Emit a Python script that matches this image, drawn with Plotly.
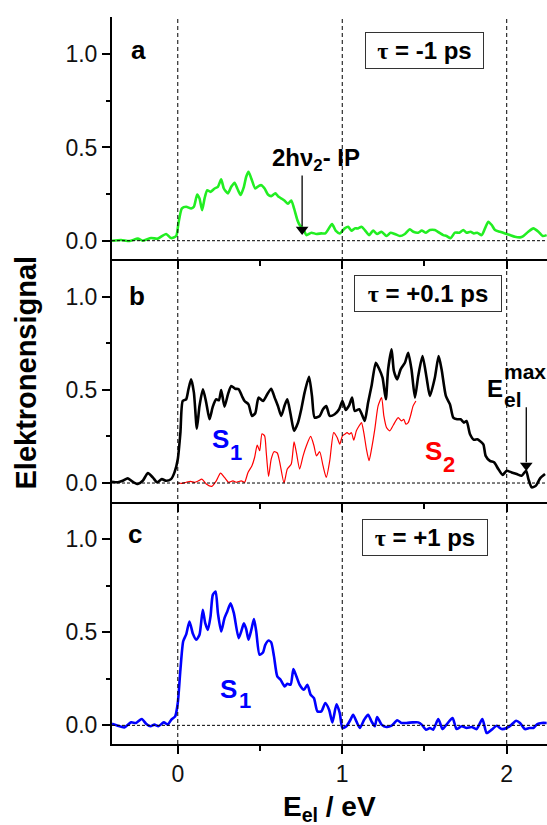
import plotly.graph_objects as go

# ---------------- data ----------------
a_x = [-0.40, -0.345, -0.294, -0.243, -0.213, -0.162, -0.122, -0.071, -0.041, -0.010,
       0.004, 0.025, 0.051, 0.081, 0.098, 0.118, 0.132, 0.148, 0.163, 0.179,
       0.199, 0.224, 0.244, 0.264, 0.280, 0.305, 0.325, 0.345, 0.362, 0.382,
       0.402, 0.416, 0.430, 0.447, 0.471, 0.491, 0.508, 0.528, 0.548, 0.568,
       0.593, 0.609, 0.629, 0.650, 0.670, 0.690, 0.707, 0.727, 0.741, 0.762,
       0.782, 0.812, 0.843, 0.873, 0.897, 0.938, 0.960, 0.985, 1.015, 1.036,
       1.056, 1.076, 1.096, 1.117, 1.137, 1.163, 1.188, 1.212, 1.239, 1.269,
       1.294, 1.320, 1.350, 1.381, 1.411, 1.432, 1.462, 1.483, 1.509, 1.533,
       1.563, 1.590, 1.614, 1.634, 1.659, 1.685, 1.712, 1.736, 1.756, 1.780,
       1.801, 1.821, 1.848, 1.868, 1.888, 1.909, 1.929, 1.959, 1.990, 2.020,
       2.050, 2.081, 2.101, 2.131, 2.162, 2.193, 2.219, 2.243]
a_y = [0.0, 0.004, -0.002, 0.011, 0.0, 0.014, 0.011, 0.036, 0.014, 0.025,
       0.093, 0.173, 0.182, 0.173, 0.182, 0.248, 0.227, 0.164, 0.227, 0.271,
       0.262, 0.280, 0.289, 0.329, 0.280, 0.254, 0.289, 0.311, 0.280, 0.245,
       0.289, 0.343, 0.370, 0.334, 0.280, 0.293, 0.298, 0.280, 0.248, 0.239,
       0.254, 0.239, 0.227, 0.214, 0.198, 0.216, 0.173, 0.111, 0.084, 0.066,
       0.030, 0.043, 0.036, 0.039, 0.039, 0.089, 0.054, 0.039, 0.066, 0.075,
       0.054, 0.066, 0.066, 0.075, 0.057, 0.030, 0.054, 0.036, 0.048, 0.025,
       0.043, 0.036, 0.025, 0.036, 0.061, 0.048, 0.043, 0.054, 0.043, 0.057,
       0.057, 0.043, 0.030, 0.025, 0.013, 0.043, 0.043, 0.057, 0.043, 0.048,
       0.039, 0.043, 0.030, 0.066, 0.102, 0.084, 0.057, 0.048, 0.039, 0.030,
       0.021, 0.018, 0.025, 0.048, 0.066, 0.048, 0.025, 0.030]

b_x = [-0.40, -0.365, -0.335, -0.304, -0.274, -0.243, -0.213, -0.182, -0.152, -0.126,
       -0.097, -0.071, -0.041, -0.020, 0.000, 0.016, 0.030, 0.051, 0.065, 0.081,
       0.098, 0.116, 0.132, 0.153, 0.173, 0.193, 0.213, 0.234, 0.250, 0.264,
       0.284, 0.305, 0.325, 0.349, 0.370, 0.390, 0.406, 0.430, 0.451, 0.471,
       0.491, 0.518, 0.544, 0.568, 0.589, 0.609, 0.629, 0.650, 0.666, 0.686,
       0.707, 0.731, 0.751, 0.771, 0.798, 0.816, 0.832, 0.863, 0.883, 0.903,
       0.924, 0.954, 0.981, 1.001, 1.021, 1.042, 1.060, 1.076, 1.103, 1.123,
       1.137, 1.157, 1.178, 1.204, 1.224, 1.245, 1.265, 1.279, 1.300, 1.314,
       1.334, 1.355, 1.381, 1.401, 1.421, 1.442, 1.462, 1.488, 1.513, 1.533,
       1.563, 1.586, 1.604, 1.630, 1.655, 1.675, 1.699, 1.720, 1.740, 1.756,
       1.777, 1.801, 1.821, 1.837, 1.858, 1.872, 1.898, 1.923, 1.949, 1.975,
       2.000, 2.030, 2.061, 2.091, 2.118, 2.132, 2.152, 2.178, 2.203, 2.233]
b_y = [0.007, 0.004, 0.012, 0.025, 0.007, -0.005, 0.012, 0.053, 0.030, 0.004,
       0.021, 0.012, 0.021, 0.057, 0.128, 0.271, 0.440, 0.449, 0.503, 0.556,
       0.485, 0.292, 0.413, 0.503, 0.431, 0.342, 0.410, 0.449, 0.444, 0.499,
       0.410, 0.476, 0.520, 0.506, 0.503, 0.467, 0.440, 0.422, 0.360, 0.374,
       0.458, 0.440, 0.476, 0.506, 0.458, 0.413, 0.360, 0.417, 0.449, 0.369,
       0.280, 0.324, 0.396, 0.485, 0.570, 0.467, 0.351, 0.360, 0.396, 0.413,
       0.360, 0.369, 0.396, 0.440, 0.392, 0.417, 0.458, 0.387, 0.396, 0.360,
       0.333, 0.431, 0.520, 0.645, 0.613, 0.565, 0.449, 0.610, 0.717, 0.601,
       0.556, 0.610, 0.645, 0.699, 0.610, 0.458, 0.574, 0.681, 0.565, 0.467,
       0.565, 0.681, 0.610, 0.467, 0.422, 0.351, 0.342, 0.342, 0.324, 0.333,
       0.262, 0.232, 0.235, 0.226, 0.208, 0.146, 0.119, 0.111, 0.075, 0.043,
       0.066, 0.057, 0.048, 0.039, 0.066, 0.021, -0.023, -0.014, 0.025, 0.048]

s2_x = [0.000, 0.025, 0.051, 0.077, 0.102, 0.126, 0.146, 0.173, 0.207, 0.234,
        0.260, 0.284, 0.309, 0.335, 0.355, 0.386, 0.406, 0.427, 0.451, 0.467,
        0.483, 0.498, 0.512, 0.528, 0.538, 0.552, 0.568, 0.585, 0.605, 0.620,
        0.646, 0.666, 0.690, 0.707, 0.721, 0.741, 0.762, 0.782, 0.808, 0.828,
        0.843, 0.863, 0.883, 0.903, 0.924, 0.948, 0.969, 0.985, 1.001, 1.015,
        1.030, 1.042, 1.056, 1.070, 1.086, 1.103, 1.117, 1.131, 1.147, 1.163,
        1.178, 1.198, 1.218, 1.239, 1.253, 1.269, 1.289, 1.310, 1.340, 1.360,
        1.374, 1.387, 1.401, 1.415, 1.431, 1.448]
s2_y = [0.000, -0.002, 0.004, 0.009, 0.004, 0.012, 0.021, -0.005, -0.018, 0.012,
        0.053, 0.030, 0.004, 0.012, 0.004, 0.012, 0.004, 0.057, 0.093, 0.137,
        0.203, 0.173, 0.264, 0.253, 0.164, 0.036, 0.128, 0.168, 0.161, 0.111,
        0.000, 0.075, 0.102, 0.221, 0.164, 0.075, 0.146, 0.200, 0.250, 0.200,
        0.146, 0.168, 0.093, 0.030, 0.120, 0.270, 0.244, 0.208, 0.253, 0.262,
        0.270, 0.262, 0.270, 0.230, 0.280, 0.307, 0.324, 0.271, 0.182, 0.120,
        0.182, 0.289, 0.414, 0.458, 0.360, 0.298, 0.280, 0.310, 0.351, 0.333,
        0.342, 0.316, 0.324, 0.360, 0.414, 0.440]

c_x = [-0.40, -0.365, -0.325, -0.284, -0.254, -0.219, -0.193, -0.166, -0.142, -0.118,
       -0.085, -0.061, -0.040, -0.016, 0.000, 0.016, 0.033, 0.051, 0.071, 0.092,
       0.112, 0.132, 0.152, 0.167, 0.183, 0.199, 0.213, 0.230, 0.244, 0.264,
       0.284, 0.301, 0.321, 0.341, 0.370, 0.386, 0.402, 0.416, 0.430, 0.447,
       0.463, 0.477, 0.497, 0.518, 0.532, 0.552, 0.568, 0.585, 0.605, 0.625,
       0.650, 0.666, 0.686, 0.703, 0.721, 0.741, 0.767, 0.788, 0.808, 0.828,
       0.849, 0.873, 0.897, 0.920, 0.940, 0.965, 0.985, 1.001, 1.025, 1.050,
       1.066, 1.086, 1.107, 1.133, 1.157, 1.178, 1.198, 1.212, 1.239, 1.269,
       1.300, 1.334, 1.360, 1.391, 1.428, 1.462, 1.483, 1.509, 1.533, 1.553,
       1.584, 1.610, 1.634, 1.671, 1.695, 1.726, 1.756, 1.787, 1.817, 1.852,
       1.878, 1.909, 1.939, 1.969, 2.000, 2.030, 2.057, 2.081, 2.111, 2.137,
       2.162, 2.186, 2.213, 2.243]
c_y = [0.009, -0.002, -0.011, 0.016, 0.013, 0.034, 0.009, -0.005, 0.004, -0.005,
       0.016, 0.004, 0.030, 0.048, 0.120, 0.299, 0.451, 0.488, 0.557, 0.491,
       0.459, 0.486, 0.620, 0.548, 0.512, 0.584, 0.700, 0.718, 0.602, 0.504,
       0.575, 0.611, 0.655, 0.602, 0.468, 0.504, 0.548, 0.516, 0.459, 0.512,
       0.570, 0.504, 0.379, 0.391, 0.432, 0.455, 0.445, 0.370, 0.263, 0.245,
       0.209, 0.223, 0.218, 0.302, 0.263, 0.218, 0.191, 0.218, 0.164, 0.146,
       0.075, 0.075, 0.120, 0.084, 0.016, 0.113, 0.066, -0.014, -0.005, 0.030,
       0.057, 0.021, -0.014, 0.030, 0.057, 0.021, -0.005, 0.045, 0.004, -0.009,
       -0.002, 0.027, 0.013, 0.013, 0.016, 0.016, 0.004, -0.023, -0.014, -0.023,
       0.034, -0.020, 0.004, 0.039, -0.020, -0.005, -0.014, -0.009, -0.020, 0.034,
       -0.041, -0.023, -0.002, -0.020, -0.014, 0.004, 0.025, 0.013, -0.020, -0.014,
       -0.014, 0.007, 0.013, 0.013]

x_range = [-0.4, 2.245]
y_range = [-0.1, 1.2]
x_major = [0, 1, 2]
x_minor = [0.5, 1.5]
y_major = [0.0, 0.5, 1.0]
y_minor = [0.25, 0.75]
y_ticktext = ["0.0", "0.5", "1.0"]
panel_letters = ["a", "b", "c"]
delays = ["-1", "+0.1", "+1"]
dashed_energies = [0, 1, 2]
# arrow markers: (energy in eV, signal at tip, signal at tail)
arrow_a = (0.756, 0.03, 0.35)      # 2hv2 - IP
arrow_b = (2.119, 0.064, 0.407)    # E_el^max

# ---------------- layout geometry ----------------
W, H = 547, 825
ML, MR, MT, MB = 112, 0, 17, 81
PW, PH = W - ML - MR, H - MT - MB
FONT = "Liberation Sans, Arial, sans-serif"
Y_PX_PER_UNIT = (PH / 3) / (y_range[1] - y_range[0])


def xp(px):
    return (px - ML) / PW


def yp(py):
    return (H - MB - py) / PH


fig = go.Figure()
line_w = 2.6
fig.add_trace(go.Scatter(x=a_x, y=a_y, mode="lines", xaxis="x", yaxis="y",
                         line=dict(color="#22ee22", width=line_w, shape="spline", smoothing=0.6)))
fig.add_trace(go.Scatter(x=b_x, y=b_y, mode="lines", xaxis="x2", yaxis="y2",
                         line=dict(color="black", width=line_w, shape="spline", smoothing=0.6)))
fig.add_trace(go.Scatter(x=s2_x, y=s2_y, mode="lines", xaxis="x2", yaxis="y2",
                         line=dict(color="#ff0000", width=1.2, shape="spline", smoothing=0.6)))
fig.add_trace(go.Scatter(x=c_x, y=c_y, mode="lines", xaxis="x3", yaxis="y3",
                         line=dict(color="#0000ff", width=line_w, shape="spline", smoothing=0.6)))

# arrows (shaft + filled head)
head_px = 11
for (ex, tip, tail), xa, ya in [(arrow_a, "x", "y"), (arrow_b, "x2", "y2")]:
    head_off = head_px / Y_PX_PER_UNIT
    fig.add_trace(go.Scatter(x=[ex, ex], y=[tail, tip + head_off * 0.8], mode="lines",
                             xaxis=xa, yaxis=ya, line=dict(color="black", width=1.3),
                             hoverinfo="skip"))
    fig.add_trace(go.Scatter(x=[ex], y=[tip + head_off / 2], mode="markers",
                             xaxis=xa, yaxis=ya, hoverinfo="skip",
                             marker=dict(symbol="triangle-down", size=head_px, color="black",
                                         line=dict(width=0))))

domains = [[2 / 3, 1.0], [1 / 3, 2 / 3], [0.0, 1 / 3]]
layout = dict(
    width=W, height=H, margin=dict(l=ML, r=MR, t=MT, b=MB),
    paper_bgcolor="white", plot_bgcolor="white", showlegend=False,
    font=dict(family=FONT, color="black"),
)
for i in range(3):
    sfx = "" if i == 0 else str(i + 1)
    layout["xaxis" + sfx] = dict(
        range=x_range, domain=[0, 1], anchor="y" + sfx,
        showline=True, linewidth=2, linecolor="black", mirror=False,
        ticks="outside", ticklen=8, tickwidth=1.6, tickcolor="black",
        tickvals=x_major, ticktext=[str(v) for v in x_major],
        showticklabels=(i == 2), tickfont=dict(size=23, color="#111"),
        minor=dict(tickvals=x_minor, ticks="outside", ticklen=5, tickwidth=1.6, tickcolor="black"),
        showgrid=False, zeroline=False, fixedrange=True,
        matches=None if i == 0 else "x",
    )
    layout["yaxis" + sfx] = dict(
        range=y_range, domain=domains[i], anchor="x" + sfx,
        showline=True, linewidth=2, linecolor="black", mirror=False,
        ticks="outside", ticklen=8, tickwidth=1.6, tickcolor="black",
        tickvals=y_major, ticktext=y_ticktext, tickfont=dict(size=23, color="#111"),
        minor=dict(tickvals=y_minor, ticks="outside", ticklen=4, tickwidth=1.6, tickcolor="black"),
        showgrid=False, zeroline=False, fixedrange=True,
    )
# top frame of panel a with inward ticks
layout["xaxis4"] = dict(
    range=x_range, overlaying="x", anchor="y", side="top",
    showline=True, linewidth=2, linecolor="black",
    ticks="inside", ticklen=8, tickwidth=1.6, tickcolor="black",
    tickvals=x_major, showticklabels=False,
    minor=dict(tickvals=x_minor, ticks="inside", ticklen=5, tickwidth=1.6, tickcolor="black"),
    showgrid=False, zeroline=False, fixedrange=True,
)
fig.update_layout(**layout)

# dashed guide lines
for e in dashed_energies:
    fig.add_shape(type="line", xref="x", yref="paper", x0=e, x1=e, y0=0, y1=1,
                  line=dict(color="black", width=1, dash="4px,3px"))
for i in range(3):
    sfx = "" if i == 0 else str(i + 1)
    fig.add_shape(type="line", xref="x" + sfx + " domain", yref="y" + sfx,
                  x0=0, x1=1, y0=0, y1=0,
                  line=dict(color="black", width=1, dash="3px,2px"))

ann = []


def text_ann(text, px, py, size, color="black", xanchor="left", yanchor="middle", **kw):
    d = dict(text=text, x=xp(px), y=yp(py), xref="paper", yref="paper",
             xanchor=xanchor, yanchor=yanchor, showarrow=False, borderpad=0,
             font=dict(family=FONT, size=size, color=color, weight="bold"))
    d.update(kw)
    return d


# panel letters
ann.append(text_ann(panel_letters[0], 138, 50, 26, xanchor="center"))
ann.append(text_ann(panel_letters[1], 137, 296, 26, xanchor="center"))
ann.append(text_ann(panel_letters[2], 135, 534, 26, xanchor="center"))

# delay boxes
tau = "<span style=\"font-family:'Liberation Serif', 'Times New Roman', serif\">τ</span>"
boxes = [(424.5, 50, 117), (428.2, 293, 146), (425.2, 537, 124)]
for (cx, cy, bw), d in zip(boxes, delays):
    ann.append(text_ann(tau + " = " + d + " ps", cx, cy, 24, xanchor="center",
                        width=bw, height=35, bordercolor="#333", borderwidth=1, align="center"))

# 2hv2 - IP
ann.append(text_ann("2hν<sub>2</sub>- IP", 271, 159, 24))

# E_el^max
ann.append(text_ann("E", 485.5, 388.7, 24))
ann.append(text_ann("max", 502.5, 371, 21))
ann.append(text_ann("el", 502.5, 399.4, 21))

# state labels
ann.append(text_ann("S", 210.5, 439.3, 26, color="#0000ff"))
ann.append(text_ann("1", 228.5, 452.4, 22, color="#0000ff"))
ann.append(text_ann("S", 424, 451, 26, color="#ff0000"))
ann.append(text_ann("2", 442, 464, 22, color="#ff0000"))
ann.append(text_ann("S", 219, 689.3, 26, color="#0000ff"))
ann.append(text_ann("1", 238, 700.4, 22, color="#0000ff"))

# axis titles
ann.append(text_ann("E<sub>el</sub> / eV", 329.5, 808, 28, xanchor="center"))
ann.append(text_ann("Elektronensignal", 25, 372.5, 29, xanchor="center", textangle=-90))

fig.update_layout(annotations=ann)
fig.write_html("out.html")
